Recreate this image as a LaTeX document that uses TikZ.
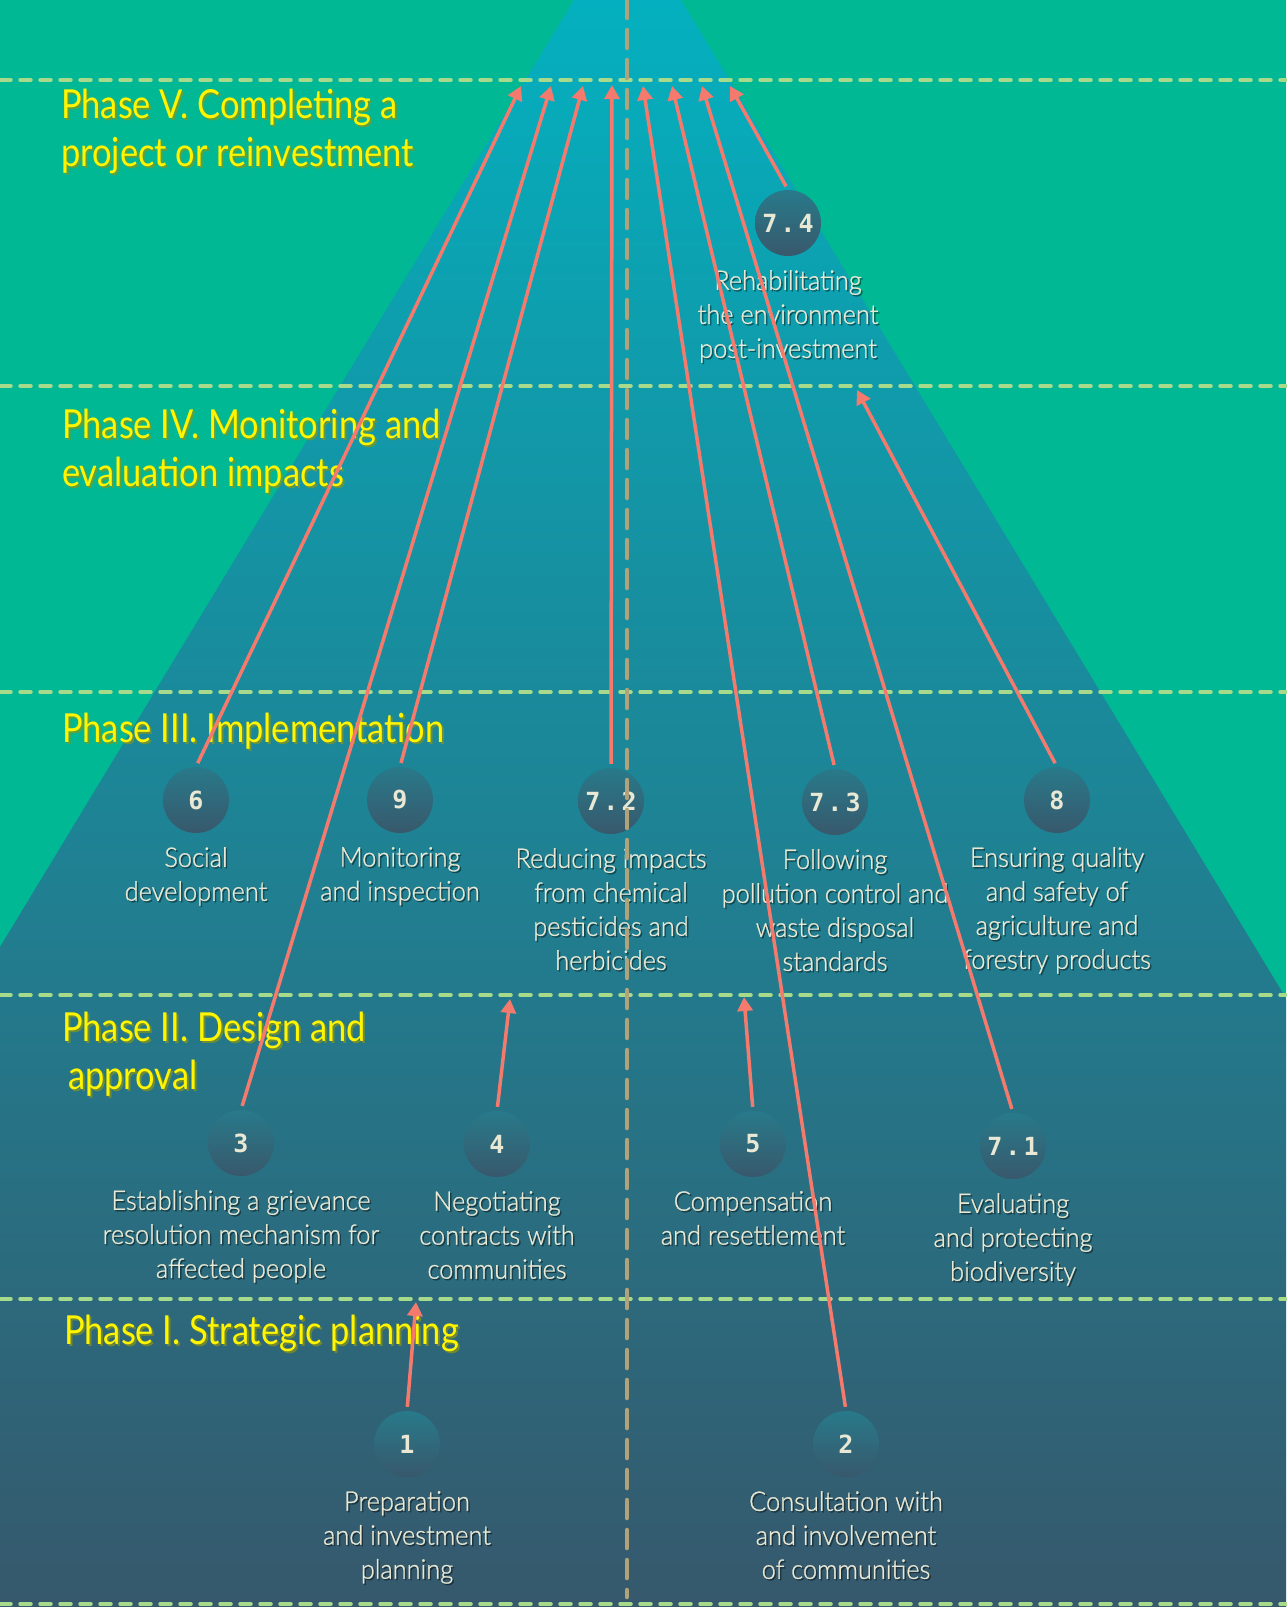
\documentclass[tikz,border=0pt]{standalone}
\usepackage{fontspec}
\setmainfont{Lato}[FakeStretch=0.86]
\newfontfamily\labfont{Lato}[UprightFont=* Light, FakeStretch=0.94, FakeBold=1]
\newfontfamily\numfont{DejaVu Sans Mono}
\usetikzlibrary{arrows.meta}
\definecolor{bggreen}{RGB}{0,184,148}
\definecolor{tritop}{RGB}{4,176,191}
\definecolor{tribot}{RGB}{54,88,108}
\definecolor{hdash}{RGB}{168,218,140}
\definecolor{vdash}{RGB}{178,162,122}
\definecolor{arrowc}{RGB}{245,122,110}
\definecolor{phasey}{RGB}{255,245,0}
\definecolor{phaseshadow}{RGB}{140,150,20}
\definecolor{labc}{RGB}{232,232,212}
\definecolor{circtop}{RGB}{40,122,138}
\definecolor{circbot}{RGB}{56,88,108}
\newcommand\mkitem[5]{%
  \node[circ] (#1) at (#2,#3) {#4};
  \node[labsh] (#1s) at (#2+1.5,#3+48.5) {#5};
  \node[lab] (#1l) at (#2,#3+47) {#5};
}
\newcommand\mkphase[4]{%
  \node[phasesh] (#1s) at (#2+2,#3+2) {#4};
  \node[phase] (#1) at (#2,#3) {#4};
}
\begin{document}
\begin{tikzpicture}[x=1pt,y=-1pt,
  hline/.style={hdash, line width=3.5pt, dash pattern=on 11pt off 9pt, line cap=round},
  vline/.style={vdash, line width=4.5pt, dash pattern=on 18pt off 12pt, line cap=round},
  circ/.style={circle, minimum size=66pt, inner sep=0pt, top color=circtop, bottom color=circbot,
    text=labc, font=\numfont\bfseries\fontsize{25}{25}\selectfont},
  lab/.style={anchor=north, inner sep=0pt, align=center, text=labc, font=\labfont\fontsize{27}{34}\selectfont},
  labsh/.style={lab, text=black, text opacity=0.35},
  phase/.style={anchor=base west, inner sep=0pt, text=phasey, font=\fontsize{40}{48}\selectfont},
  phasesh/.style={phase, text=phaseshadow, text opacity=0.7},
  arr/.style={arrowc, line width=3.5pt, -{Triangle[length=14pt,width=15pt]}, shorten <=4pt},
]
\useasboundingbox (0,0) rectangle (1286,1607);
\fill[bggreen] (0,0) rectangle (1286,1607);
\begin{scope}
\clip (0,0) rectangle (1286,1607);
\shade[top color=tritop, bottom color=tribot] (574,0) -- (681,0) -- (1655,1607) -- (-400,1607) -- cycle;
\end{scope}
% phase separators
\coordinate (h1a) at (0,80);   \coordinate (h1b) at (1286,80);
\coordinate (h2a) at (0,386);  \coordinate (h2b) at (1286,386);
\coordinate (h3a) at (0,692);  \coordinate (h3b) at (1286,692);
\coordinate (h4a) at (0,995);  \coordinate (h4b) at (1286,995);
\coordinate (h5a) at (0,1299); \coordinate (h5b) at (1286,1299);
\coordinate (h6a) at (0,1604); \coordinate (h6b) at (1286,1604);
\foreach \i in {1,...,6} \draw[hline] (h\i a) -- (h\i b);
% phase labels
\mkphase{p5a}{61}{118}{Phase V. Completing a}
\mkphase{p5b}{61}{166}{project or reinvestment}
\mkphase{p4a}{62}{438}{Phase IV. Monitoring and}
\mkphase{p4b}{62}{486}{evaluation impacts}
\mkphase{p3a}{62}{742}{Phase III. Implementation}
\mkphase{p2a}{62}{1041}{Phase II. Design and}
\mkphase{p2b}{68}{1089}{approval}
\mkphase{p1a}{64}{1344}{Phase I. Strategic planning}
% items
\mkitem{c74}{788}{223}{7\kern3pt.\kern3pt4}{Rehabilitating\\the environment\\post-investment}
\mkitem{c6}{196}{800}{6}{Social\\development}
\mkitem{c9}{400}{800}{9}{Monitoring\\and inspection}
\mkitem{c72}{611}{801}{7\kern3pt.\kern3pt2}{Reducing impacts\\from chemical\\pesticides and\\herbicides}
\mkitem{c73}{835}{802}{7\kern3pt.\kern3pt3}{Following\\pollution control and\\waste disposal\\standards}
\mkitem{c8}{1057}{800}{8}{Ensuring quality\\and safety of\\agriculture and\\forestry products}
\mkitem{c3}{241}{1143}{3}{Establishing a grievance\\resolution mechanism for\\affected people}
\mkitem{c4}{497}{1144}{4}{Negotiating\\contracts with\\communities}
\mkitem{c5}{753}{1144}{5}{Compensation\\and resettlement}
\mkitem{c71}{1013}{1146}{7\kern3pt.\kern3pt1}{Evaluating\\and protecting\\biodiversity}
\mkitem{c1}{407}{1444}{1}{Preparation\\and investment\\planning}
\mkitem{c2}{846}{1444}{2}{Consultation with\\and involvement\\of communities}
% centre line
\coordinate (vtop) at (627,0);
\coordinate (vbot) at (627,1597);
\draw[vline] (vtop) -- (vbot);
% arrow targets
\coordinate (t6) at (521,86);
\coordinate (t3) at (551,86);
\coordinate (t9) at (583,86);
\coordinate (t72) at (612,85);
\coordinate (t2) at (643,86);
\coordinate (t73) at (672,86);
\coordinate (t71) at (702,86);
\coordinate (t74) at (730,86);
\coordinate (t8) at (857,390);
\coordinate (t5) at (744,997);
\coordinate (t4) at (510,999);
\coordinate (t1) at (416,1302);
\foreach \s in {6,3,9,72,2,73,71,74,8,5,4,1} \draw[arr] (c\s.north) -- (t\s);
\end{tikzpicture}
\end{document}
